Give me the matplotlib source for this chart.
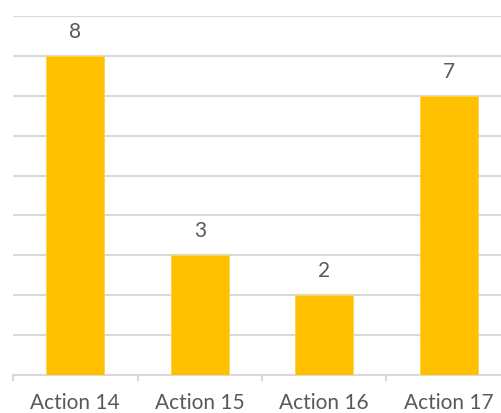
import matplotlib
matplotlib.use("Agg")
import matplotlib.pyplot as plt
import numpy as np

categories = ["Action 14", "Action 15", "Action 16", "Action 17"]
values = [8, 3, 2, 7]

plt.rcParams['font.family'] = ['Lato', 'DejaVu Sans']

fig = plt.figure(figsize=(5.01, 4.14), dpi=100)
ax = fig.add_axes([13/501, 38/414, 498/501, 359/414])

x = np.arange(len(categories))
ax.bar(x, values, width=0.465, color="#FFC000", edgecolor="#FFD24D", linewidth=0.6, zorder=3)

ax.set_xlim(-0.5, 3.5)
ax.set_ylim(0, 9)
ax.set_yticks(np.arange(0, 10, 1))
ax.yaxis.grid(True, color="#D9D9D9", linewidth=1.5, zorder=0)
ax.tick_params(axis='y', left=False, labelleft=False)

for s in ["top", "right", "left"]:
    ax.spines[s].set_visible(False)
ax.spines["bottom"].set_color("#D9D9D9")
ax.spines["bottom"].set_linewidth(1.5)

ax.set_xticks(x)
ax.set_xticklabels(categories, fontsize=15, color="#595959")
ax.tick_params(axis='x', which='major', length=0, pad=12)
ax.set_xticks(np.arange(-0.5, 4.0, 1.0), minor=True)
ax.tick_params(axis='x', which='minor', length=4.5, width=1.5, color="#D9D9D9")

for xi, v in zip(x, values):
    ax.annotate(str(v), (xi, v), xytext=(0, 18), textcoords="offset points",
                ha="center", va="center", fontsize=15, color="#595959")

fig.savefig("out.png", dpi=100)
